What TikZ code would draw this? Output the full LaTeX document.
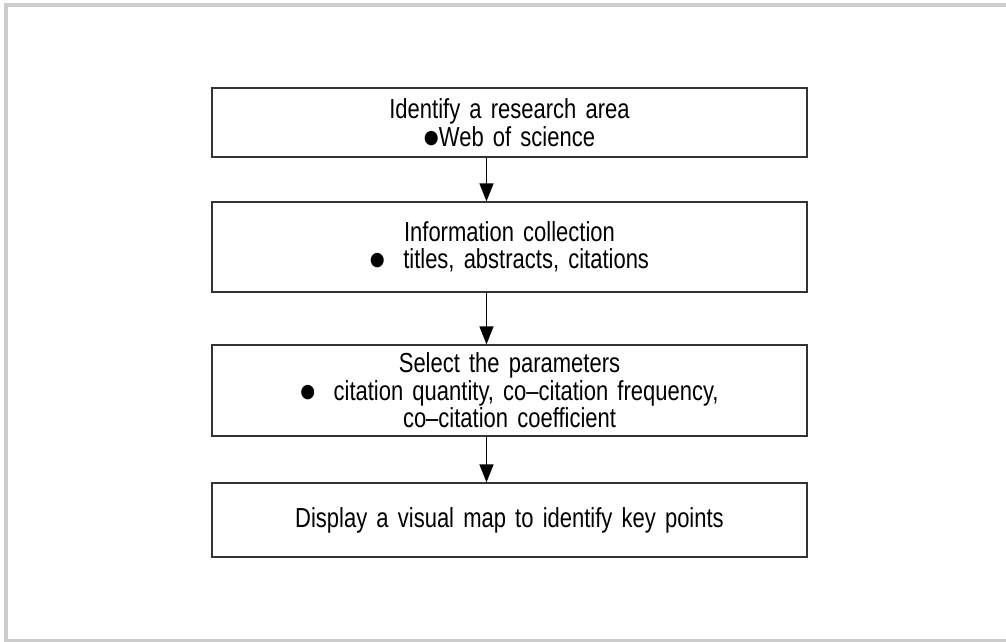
\documentclass[tikz,border=0pt]{standalone}
\usepackage{fontspec}
\setmainfont[FakeStretch=0.80,WordSpace=1.5]{Liberation Sans}
\newfontfamily\dotfont[FakeStretch=0.9]{DejaVu Sans}
\newcommand{\blt}{\raisebox{3pt}{\dotfont\fontsize{19}{27.5}\selectfont ●}}
\usepackage{tikz}
\usetikzlibrary{arrows.meta}
\tikzstyle{stepbox}=[
    draw=black!80,
    line width=1.3pt,
    rectangle,
    minimum width=595pt,
    align=center,
    inner sep=0pt,
    font=\fontsize{27.5}{27.5}\selectfont
]
\tikzstyle{flow}=[
    line width=1.4pt,
    -{Triangle[width=14pt,length=18pt]}
]

\begin{document}
\begin{tikzpicture}[x=1pt,y=-1pt]
        \useasboundingbox (0,0) rectangle (1006,641);

        % frame
        \draw[black!20, line width=4pt] (5.8,641) -- (5.8,4.5) -- (1006,4.5);
        \draw[black!20, line width=3pt] (4,640) -- (1006,640);

        % steps
        \node[stepbox, minimum height=69pt] (area) at (509.5,122.5)
            {Identify a research area\\\blt Web of science};
        \node[stepbox, minimum height=90pt] (collect) at (509.5,247)
            {Information collection\\\blt\ \ titles, abstracts, citations};
        \node[stepbox, minimum height=91pt] (params) at (509.5,390.5)
            {Select the parameters\\\blt\ \ citation quantity, co–citation frequency,\\co–citation coefficient};
        \node[stepbox, minimum height=74pt] (mapbox) at (509.5,520)
            {Display a visual map to identify key points};

        % arrows
        \draw[flow] ([xshift=-23pt]area.south) -- ([xshift=-23pt]collect.north);
        \draw[flow] ([xshift=-23pt]collect.south) -- ([xshift=-23pt]params.north);
        \draw[flow] ([xshift=-23pt]params.south) -- ([xshift=-23pt]mapbox.north);

    \end{tikzpicture}
\end{document}
